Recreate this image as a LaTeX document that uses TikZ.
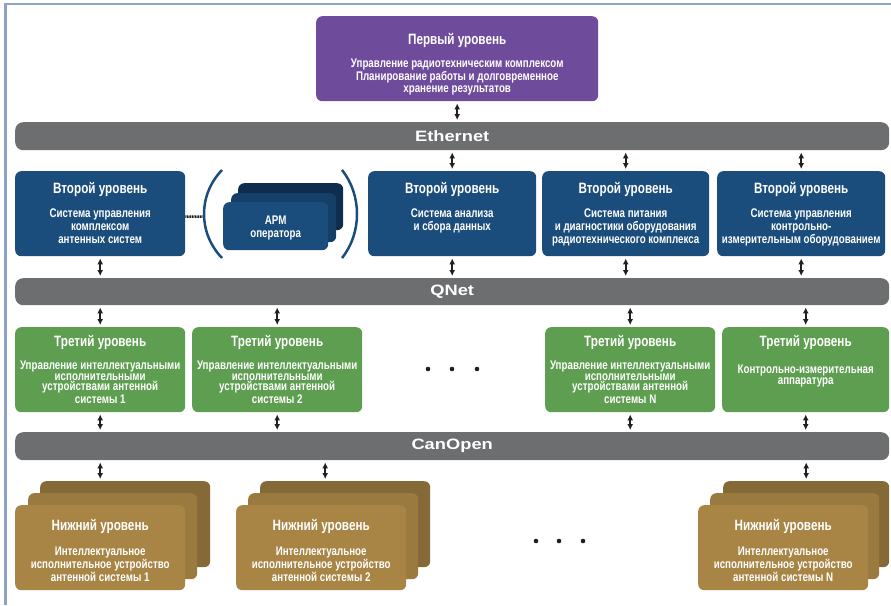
\documentclass[tikz,border=0pt]{standalone}
\usepackage{fontspec}
\setmainfont{Liberation Sans}[FakeStretch=0.78]
\newfontfamily\busfont{Liberation Sans}[FakeStretch=1.22]
\usetikzlibrary{arrows.meta}

\definecolor{frameblue}{HTML}{8CA3C7}
\definecolor{lvlone}{HTML}{6F4C9B}
\definecolor{lvltwo}{HTML}{1B4D7C}
\definecolor{lvltwomid}{HTML}{153F66}
\definecolor{lvltwoback}{HTML}{0E2D4E}
\definecolor{lvlthree}{HTML}{5E9E50}
\definecolor{lowfront}{HTML}{A88445}
\definecolor{lowmid}{HTML}{9A7A3F}
\definecolor{lowback}{HTML}{856937}
\definecolor{busgray}{HTML}{6D6E70}
\definecolor{arrowc}{HTML}{231F20}

\begin{document}
\begin{tikzpicture}[x=1pt, y=-1pt,
    box/.style={rounded corners=6pt, anchor=north west, inner sep=0pt, minimum height=85},
    bus/.style={rounded corners=8pt, anchor=north west, inner sep=0pt, fill=busgray, minimum width=874,
        text=white, font=\busfont\fontsize{15}{17}\bfseries},
    ttl/.style={text=white, inner sep=0pt, font=\fontsize{15}{17}\bfseries},
    txt/.style={text=white, inner sep=0pt, anchor=north, align=center, font=\fontsize{12.5}{13}\bfseries},
    link/.style={{Latex[length=6pt,width=6pt]}-{Latex[length=6pt,width=6pt]}, line width=1.8pt,
        draw=arrowc, shorten >=2pt, shorten <=2pt}]

        \useasboundingbox (0,0) rectangle (891,605);
        % Frame round the page
        \draw[frameblue, line width=2.5pt] (4,4) -- (891,4);
        \draw[frameblue, line width=3pt] (5.5,3) -- (5.5,605);

        % First level
        \node[box, fill=lvlone, minimum width=282] (lvl1) at (316,16) {};
        \node[ttl] (lvl1t) at ([yshift=-24]lvl1.north) {Первый уровень};
        \node[txt, font=\fontsize{12.5}{12.5}\bfseries] (lvl1b) at ([yshift=-43]lvl1.north) {Управление радиотехническим комплексом\\Планирование работы и долговременное\\хранение результатов};

        % The three buses
        \node[bus, minimum height=28] (eth) at (15,122) {Ethernet};
        \node[bus, minimum height=27] (qnet) at (15,278) {QNet};
        \node[bus, minimum height=28] (can) at (15,432) {CanOpen};

        % Second level
        \node[box, fill=lvltwo, minimum width=170] (sys1) at (15,171) {};
        \node[ttl] (sys1t) at ([yshift=-18]sys1.north) {Второй уровень};
        \node[txt] (sys1b) at ([yshift=-37.5]sys1.north) {Система управления\\комплексом\\антенных систем};

        \node[box, fill=lvltwo, minimum width=168] (sys2) at (368,171) {};
        \node[ttl] (sys2t) at ([yshift=-18]sys2.north) {Второй уровень};
        \node[txt] (sys2b) at ([yshift=-37.5]sys2.north) {Система анализа\\и сбора данных};

        \node[box, fill=lvltwo, minimum width=167] (sys3) at (542,171) {};
        \node[ttl] (sys3t) at ([yshift=-18]sys3.north) {Второй уровень};
        \node[txt] (sys3b) at ([yshift=-37.5]sys3.north) {Система питания\\и диагностики оборудования\\радиотехнического комплекса};

        \node[box, fill=lvltwo, minimum width=168] (sys4) at (717,171) {};
        \node[ttl] (sys4t) at ([yshift=-18]sys4.north) {Второй уровень};
        \node[txt] (sys4b) at ([yshift=-37.5]sys4.north) {Система управления\\контрольно-\\измерительным оборудованием};

        % Operator workstations in brackets
        \node[box, fill=lvltwoback, minimum width=105, minimum height=47] (apm3) at (238,183) {};
        \node[box, fill=lvltwomid, minimum width=105, minimum height=49] (apm2) at (231,193) {};
        \node[box, fill=lvltwo, minimum width=105, minimum height=48] (apm1) at (223,202) {};
        \node[txt, anchor=center] (apm1t) at ([yshift=-2]apm1.center) {АРМ\\оператора};
        \draw[lvltwo, line width=2.5pt] (222,170) .. controls (198,195) and (198,233) .. (222,258);
        \draw[lvltwo, line width=2.5pt] (342,170) .. controls (362,195) and (362,233) .. (342,258);
        \coordinate (parL) at (203,216.5);
        \draw[arrowc, line width=2.5pt, dash pattern=on 1pt off 0.6pt] ([yshift=-3]sys1.east) -- (parL);

        % Third level
        \node[box, fill=lvlthree, minimum width=170] (net1) at (15,327) {};
        \node[ttl] (net1t) at ([yshift=-15]net1.north) {Третий уровень};
        \node[txt, font=\fontsize{12.5}{10.8}\bfseries] (net1b) at ([yshift=-33.5]net1.north) {Управление интеллектуальными\\исполнительными\\устройствами антенной\\системы 1};

        \node[box, fill=lvlthree, minimum width=170] (net2) at (192,327) {};
        \node[ttl] (net2t) at ([yshift=-15]net2.north) {Третий уровень};
        \node[txt, font=\fontsize{12.5}{10.8}\bfseries] (net2b) at ([yshift=-33.5]net2.north) {Управление интеллектуальными\\исполнительными\\устройствами антенной\\системы 2};

        \node[box, fill=lvlthree, minimum width=170] (netN) at (545,327) {};
        \node[ttl] (netNt) at ([yshift=-15]netN.north) {Третий уровень};
        \node[txt, font=\fontsize{12.5}{10.8}\bfseries] (netNb) at ([yshift=-33.5]netN.north) {Управление интеллектуальными\\исполнительными\\устройствами антенной\\системы N};

        \node[box, fill=lvlthree, minimum width=167] (netK) at (722,327) {};
        \node[ttl] (netKt) at ([yshift=-15]netK.north) {Третий уровень};
        \node[txt, font=\fontsize{12.5}{11}\bfseries] (netKb) at ([yshift=-37.5]netK.north) {Контрольно-измерительная\\аппаратура};

        \fill[arrowc] (428,369) circle (2.3) (452,369) circle (2.3) (477,369) circle (2.3);

        % Lower level, three cards per stack
        \node[box, fill=lowback, minimum width=170, minimum height=86] (back1) at (40,481) {};
        \node[box, fill=lowmid, minimum width=169, minimum height=86] (mid1) at (28,493) {};
        \node[box, fill=lowfront, minimum width=170] (front1) at (15,505) {};
        \node[ttl] (front1t) at ([yshift=-21]front1.north) {Нижний уровень};
        \node[txt, font=\fontsize{12.5}{12.7}\bfseries] (front1b) at ([yshift=-42]front1.north) {Интеллектуальное\\исполнительное устройство\\антенной системы 1};

        \node[box, fill=lowback, minimum width=170, minimum height=86] (back2) at (260,481) {};
        \node[box, fill=lowmid, minimum width=170, minimum height=86] (mid2) at (248,493) {};
        \node[box, fill=lowfront, minimum width=170] (front2) at (236,505) {};
        \node[ttl] (front2t) at ([yshift=-21]front2.north) {Нижний уровень};
        \node[txt, font=\fontsize{12.5}{12.7}\bfseries] (front2b) at ([yshift=-42]front2.north) {Интеллектуальное\\исполнительное устройство\\антенной системы 2};

        \node[box, fill=lowback, minimum width=166, minimum height=86] (backN) at (723,481) {};
        \node[box, fill=lowmid, minimum width=169, minimum height=86] (midN) at (710,493) {};
        \node[box, fill=lowfront, minimum width=170] (frontN) at (698,505) {};
        \node[ttl] (frontNt) at ([yshift=-21]frontN.north) {Нижний уровень};
        \node[txt, font=\fontsize{12.5}{12.7}\bfseries] (frontNb) at ([yshift=-42]frontN.north) {Интеллектуальное\\исполнительное устройство\\антенной системы N};

        \fill[arrowc] (536,541) circle (2.3) (559,541) circle (2.3) (583,541) circle (2.3);

        % Links to the buses
        \draw[link] (lvl1.south) -- (lvl1.south |- eth.north);
        \draw[link] (sys2.north |- eth.south) -- (sys2.north);
        \draw[link] (sys3.north |- eth.south) -- (sys3.north);
        \draw[link] (sys4.north |- eth.south) -- (sys4.north);

        \draw[link] (sys1.south) -- (sys1.south |- qnet.north);
        \draw[link] (sys2.south) -- (sys2.south |- qnet.north);
        \draw[link] (sys3.south) -- (sys3.south |- qnet.north);
        \draw[link] (sys4.south) -- (sys4.south |- qnet.north);

        \draw[link] (net1.north |- qnet.south) -- (net1.north);
        \draw[link] (net2.north |- qnet.south) -- (net2.north);
        \draw[link] (netN.north |- qnet.south) -- (netN.north);
        \draw[link] (netK.north |- qnet.south) -- (netK.north);

        \draw[link] (net1.south) -- (net1.south |- can.north);
        \draw[link] (net2.south) -- (net2.south |- can.north);
        \draw[link] (netN.south) -- (netN.south |- can.north);
        \draw[link] (netK.south) -- (netK.south |- can.north);

        \draw[link] (front1.north |- can.south) -- (front1.north |- back1.north);
        \draw[link] ([xshift=-20]back2.north |- can.south) -- ([xshift=-20]back2.north);
        \draw[link] (backN.north |- can.south) -- (backN.north);

\end{tikzpicture}
\end{document}
